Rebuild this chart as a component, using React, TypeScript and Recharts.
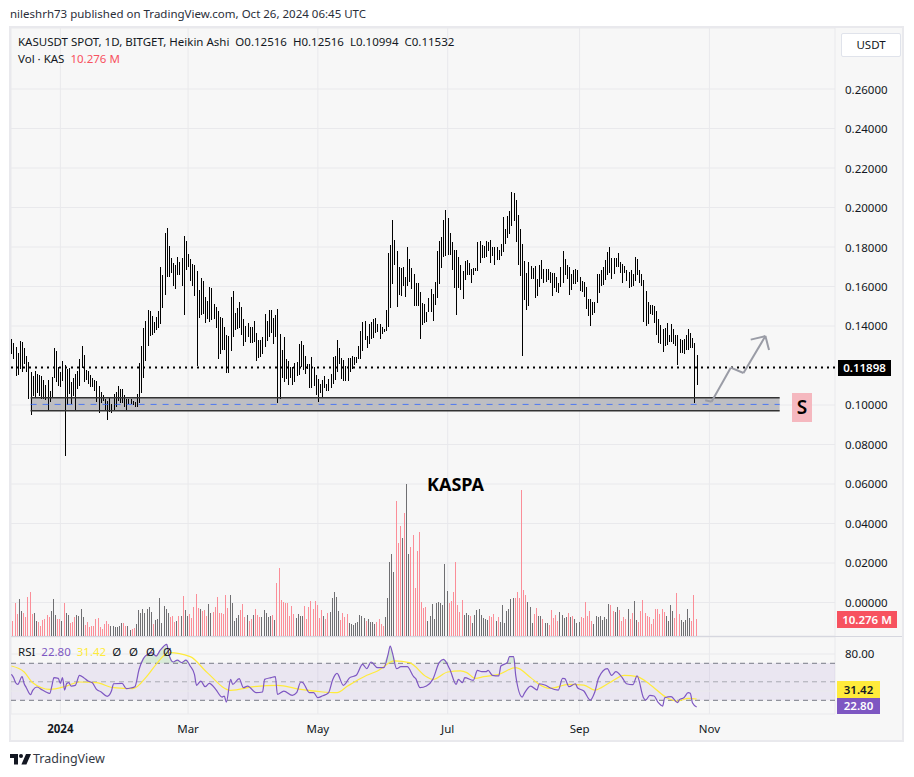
import React from 'react';
import {
    ComposedChart,
    Bar,
    Line,
    Area,
    XAxis,
    YAxis,
    CartesianGrid,
    ReferenceArea,
    ReferenceLine,
} from 'recharts';

// daily Heikin Ashi ranges, first bar is 23 days before Jan 1 2024
const firstDay = -23;

const highs = [
    .1334, .1314, .1293, .1263, .1324, .1319, .1288, .1248, .1217, .1167,
    .1148, .1172, .1157, .1152, .1147, .1126, .1101, .1126, .1072, .1142,
    .1288, .1273, .1194, .1167, .1223, .1202, .1182, .1187, .1116, .1136,
    .1157, .1172, .1233, .1298, .1253, .1177, .1172, .1152, .1136, .1126,
    .1121, .1096, .1066, .1050, .1030, .1022, .1035, .1005, .1055, .1066,
    .1096, .1081, .1081, .1050, .1030, .1030, .1030, .1020, .1015, .1055,
    .1214, .1298, .1390, .1425, .1481, .1476, .1450, .1420, .1445, .1476,
    .1697, .1658, .1871, .1896, .1805, .1744, .1719, .1709, .1749, .1724,
    .1744, .1855, .1830, .1764, .1739, .1714, .1709, .1678, .1582, .1643,
    .1628, .1547, .1526, .1597, .1592, .1511, .1496, .1476, .1445, .1440,
    .1395, .1354, .1349, .1547, .1577, .1466, .1491, .1521, .1496, .1435,
    .1400, .1415, .1395, .1395, .1425, .1364, .1329, .1329, .1344, .1461,
    .1425, .1481, .1481, .1440, .1455, .1486, .1359, .1278, .1344, .1233,
    .1223, .1192, .1192, .1212, .1217, .1309, .1324, .1304, .1248, .1207,
    .1207, .1243, .1192, .1152, .1131, .1106, .1126, .1147, .1106, .1131,
    .1157, .1243, .1246, .1329, .1288, .1238, .1228, .1197, .1238, .1238,
    .1248, .1243, .1243, .1298, .1374, .1420, .1425, .1349, .1410, .1420,
    .1435, .1440, .1410, .1410, .1395, .1385, .1481, .1769, .1810, .1936,
    .1835, .1780, .1698, .1693, .1698, .1648, .1800, .1739, .1693, .1663,
    .1617, .1617, .1572, .1516, .1511, .1471, .1542, .1587, .1562, .1623,
    .1780, .1830, .1850, .1936, .1987, .1947, .1871, .1825, .1785, .1785,
    .1749, .1709, .1678, .1729, .1734, .1719, .1688, .1693, .1693, .1825,
    .1830, .1810, .1805, .1830, .1825, .1835, .1800, .1800, .1800, .1785,
    .1815, .1952, .1891, .1957, .1982, .2078, .2073, .2038, .1962, .1891,
    .1815, .1729, .1668, .1724, .1704, .1693, .1704, .1638, .1709, .1734,
    .1688, .1688, .1688, .1673, .1668, .1668, .1648, .1617, .1698, .1780,
    .1739, .1709, .1698, .1663, .1683, .1688, .1683, .1648, .1628, .1623,
    .1597, .1536, .1536, .1521, .1521, .1663, .1663, .1683, .1698, .1734,
    .1774, .1800, .1744, .1744, .1744, .1769, .1724, .1714, .1704, .1683,
    .1673, .1683, .1663, .1749, .1739, .1683, .1663, .1633, .1577, .1521,
    .1506, .1506, .1501, .1476, .1435, .1405, .1385, .1390, .1415, .1354,
    .1410, .1385, .1354, .1354, .1334, .1329, .1334, .1354, .1385, .1364,
    .1339, .1314, .12516,
];

const lows = [
    .1260, .1233, .1148, .1152, .1180, .1167, .1207, .1165, .1030, .0949,
    .1045, .1040, .1060, .1045, .1030, .1032, .1025, .0974, .1017, .1040,
    .1138, .1116, .1096, .1091, .1121, .0742, .1000, .1055, .1005, .1045,
    .0974, .1081, .1096, .1187, .1116, .1126, .1106, .1093, .1093, .1072,
    .1017, .0958, .1010, .1020, .0974, .0924, .0963, .0961, .0974, .0991,
    .1018, .1008, .1010, .0990, .0974, .1005, .1005, .1000, .0990, .0991,
    .1012, .1062, .1136, .1223, .1298, .1349, .1354, .1363, .1379, .1388,
    .1410, .1491, .1557, .1648, .1650, .1668, .1602, .1587, .1658, .1658,
    .1602, .1455, .1683, .1698, .1628, .1602, .1552, .1197, .1440, .1455,
    .1461, .1415, .1435, .1420, .1430, .1435, .1390, .1233, .1258, .1278,
    .1278, .1162, .1162, .1273, .1344, .1379, .1385, .1390, .1354, .1298,
    .1319, .1344, .1314, .1314, .1319, .1223, .1238, .1243, .1258, .1293,
    .1324, .1344, .1364, .1309, .1344, .1010, .1030, .1136, .1116, .1131,
    .1101, .1136, .1103, .1116, .1147, .1152, .1192, .1177, .1157, .1180,
    .1088, .1088, .1096, .1050, .1017, .1059, .1035, .1084, .1072, .1072,
    .1084, .1106, .1126, .1169, .1207, .1131, .1121, .1121, .1123, .1169,
    .1182, .1202, .1211, .1233, .1233, .1275, .1329, .1290, .1310, .1334,
    .1339, .1366, .1369, .1334, .1359, .1369, .1374, .1396, .1491, .1612,
    .1709, .1496, .1557, .1552, .1602, .1547, .1602, .1623, .1587, .1501,
    .1501, .1501, .1334, .1405, .1413, .1420, .1471, .1471, .1425, .1506,
    .1542, .1612, .1693, .1749, .1754, .1759, .1759, .1683, .1592, .1455,
    .1592, .1582, .1536, .1633, .1658, .1658, .1617, .1658, .1678, .1678,
    .1719, .1744, .1744, .1749, .1780, .1719, .1754, .1709, .1734, .1734,
    .1754, .1774, .1815, .1845, .1866, .1906, .1931, .1825, .1709, .1653,
    .1248, .1531, .1481, .1501, .1638, .1638, .1542, .1552, .1597, .1638,
    .1617, .1623, .1633, .1619, .1552, .1590, .1572, .1567, .1597, .1617,
    .1658, .1638, .1557, .1582, .1612, .1612, .1623, .1577, .1572, .1547,
    .1486, .1450, .1400, .1455, .1466, .1516, .1565, .1602, .1607, .1633,
    .1658, .1668, .1638, .1663, .1698, .1698, .1668, .1617, .1668, .1628,
    .1592, .1597, .1602, .1628, .1658, .1617, .1602, .1420, .1400, .1410,
    .1461, .1455, .1415, .1354, .1314, .1309, .1268, .1298, .1303, .1319,
    .1319, .1309, .1298, .1202, .1263, .1263, .1258, .1278, .1278, .1288,
    .1288, .1010, .10994,
];

// volume in millions of KAS
const volumes = [
    10.3, 9.0, 20.1, 13.3, 22.6, 15.2, 13.9, 11.5, 23.8, 26.9,
    13.3, 13.9, 9.0, 8.4, 5.9, 9.6, 10.3, 12.7, 11.5, 15.2,
    22.6, 12.7, 10.3, 10.3, 9.0, 20.1, 13.9, 12.7, 7.8, 8.4,
    11.5, 12.7, 12.1, 16.4, 11.5, 6.6, 8.4, 5.3, 5.9, 5.9,
    10.3, 10.9, 5.3, 4.1, 7.2, 9.0, 7.2, 5.9, 5.9, 5.3,
    5.3, 5.9, 7.8, 7.8, 5.9, 5.9, 3.5, 4.1, 4.7, 7.2,
    15.8, 13.9, 16.4, 13.9, 16.4, 17.6, 14.6, 7.2, 9.6, 10.3,
    23.2, 7.8, 18.2, 16.4, 13.9, 11.5, 12.1, 8.4, 9.0, 12.1,
    12.1, 24.4, 15.8, 12.1, 13.3, 10.9, 17.6, 25.6, 17.0, 16.4,
    15.2, 15.8, 12.1, 19.5, 13.9, 14.6, 17.6, 23.8, 13.9, 13.9,
    13.3, 25.0, 17.0, 25.0, 20.1, 9.0, 10.9, 12.7, 15.8, 19.5,
    11.5, 12.7, 9.0, 10.3, 12.7, 16.4, 12.7, 11.5, 11.5, 15.8,
    13.9, 11.5, 12.1, 12.7, 9.6, 32.4, 41.6, 21.9, 20.7, 20.1,
    20.1, 12.1, 18.2, 13.3, 10.9, 13.3, 12.1, 12.1, 18.2, 10.3,
    17.6, 21.3, 16.4, 21.3, 18.9, 10.9, 15.8, 12.1, 10.3, 13.9,
    14.6, 23.2, 26.9, 23.8, 15.2, 9.6, 13.9, 11.5, 13.3, 7.8,
    7.2, 6.6, 7.8, 8.4, 12.7, 12.1, 10.9, 9.0, 10.3, 8.4,
    8.4, 7.2, 8.4, 10.3, 7.2, 5.9, 11.5, 23.2, 45.3, 50.2,
    39.2, 82.8, 57.0, 67.4, 60.1, 75.4, 93.3, 50.2, 54.5, 61.9,
    29.3, 52.1, 63.8, 20.7, 17.0, 17.6, 9.0, 12.1, 19.5, 10.3,
    20.1, 20.7, 20.1, 18.9, 44.1, 27.5, 20.1, 21.3, 26.9, 45.3,
    18.9, 14.6, 21.9, 12.7, 13.9, 12.7, 12.1, 7.8, 12.7, 15.8,
    16.4, 12.7, 10.9, 10.3, 9.6, 12.1, 11.5, 13.3, 9.0, 11.5,
    8.4, 18.9, 7.8, 15.2, 16.4, 22.6, 23.2, 23.2, 26.9, 23.2,
    89.6, 28.1, 25.0, 20.7, 17.6, 7.8, 13.3, 17.0, 12.1, 12.1,
    10.3, 7.8, 7.8, 6.6, 15.8, 10.9, 12.7, 9.0, 14.6, 12.7,
    10.9, 11.5, 13.9, 11.5, 12.1, 10.3, 7.8, 8.4, 11.5, 10.9,
    20.7, 12.1, 15.2, 9.0, 7.2, 12.1, 11.5, 12.1, 9.6, 11.5,
    10.3, 19.5, 18.9, 15.2, 14.6, 17.6, 15.8, 9.0, 11.5, 10.3,
    16.4, 10.3, 13.9, 21.3, 9.6, 8.4, 15.2, 21.9, 13.9, 12.1,
    11.5, 7.2, 10.3, 16.4, 16.4, 13.3, 16.4, 14.6, 12.1, 9.0,
    18.9, 15.2, 10.9, 26.2, 13.3, 9.6, 8.4, 9.6, 16.4, 10.9,
    9.0, 25.0, 10.276,
];

// p = down day, g = up day
const volumeDirections = [
    'ppppggpppp', 'pggppppppg', 'ggppgpggpp', 'pggggppppp', 'pppppppggg',
    'gggppggppg', 'gggggggpgg', 'gggggpppgp', 'gpggpppppg', 'pppggppppp',
    'pppgggggpp', 'pgppgpppgg', 'gggpgppppp', 'ppppggggpp', 'pppppppgpp',
    'gggggppppg', 'gggggggpgg', 'ggppppgggg', 'gpppgpggpp', 'ppppppgggg',
    'ggggggpppp', 'pppgggpggg', 'gggggpppgp', 'gggggggppp', 'pppgggppgg',
    'pggpppppgg', 'ggpgpgggpp', 'ppppgggggg', 'ggppggpppp', 'gppggppppp',
    'ppppppppgg', 'ggpppggggg', 'ppp',
].join('');

const rsiDays = [
    -23, -22, -21, -20, -18, -17, -16, -14, -13, -11,
    -9, -7, -5, -4, -3, -1, 0, 1, 2, 3,
    4, 5, 7, 9, 11, 13, 15, 17, 19, 22,
    24, 25, 29, 31, 33, 35, 37, 39, 41, 43,
    45, 47, 50, 51, 53, 55, 57, 59, 61, 63,
    64, 66, 68, 70, 73, 76, 77, 78, 80, 81,
    84, 86, 88, 92, 95, 96, 99, 101, 102, 105,
    109, 111, 113, 114, 117, 119, 121, 123, 126, 128,
    130, 133, 136, 139, 142, 144, 146, 149, 152, 154,
    155, 156, 158, 160, 163, 166, 167, 169, 172, 175,
    178, 180, 183, 186, 187, 189, 190, 194, 196, 198,
    200, 201, 203, 206, 207, 210, 211, 213, 214, 217,
    218, 221, 224, 225, 228, 230, 234, 236, 237, 239,
    242, 243, 246, 249, 251, 253, 257, 259, 261, 264,
    266, 269, 271, 274, 275, 277, 279, 281, 283, 284,
    287, 290, 291, 293, 295, 296, 297, 299,
];

const rsiValues = [
    58.1, 54.5, 49.0, 47.2, 55.5, 47.9, 43.6, 36.1, 40.8, 44.4,
    41.8, 39.3, 37.5, 45.4, 54.5, 53.7, 48.3, 54.5, 41.1, 48.3,
    49.0, 45.4, 46.2, 57.0, 54.5, 50.8, 49.0, 41.8, 39.3, 34.3,
    40.0, 47.9, 48.3, 42.6, 43.3, 44.7, 63.5, 75.0, 79.7, 81.5,
    77.9, 84.4, 90.5, 79.7, 71.4, 73.5, 70.7, 73.5, 67.1, 58.1,
    46.2, 50.8, 44.7, 48.3, 41.8, 33.5, 34.6, 28.1, 52.6, 47.2,
    53.4, 43.6, 45.4, 38.2, 39.0, 52.6, 54.5, 55.5, 36.4, 40.0,
    35.3, 38.2, 49.8, 49.0, 38.2, 38.2, 32.8, 34.6, 38.2, 52.6,
    59.1, 46.2, 54.5, 57.0, 68.9, 64.2, 71.4, 65.3, 65.3, 79.7,
    88.7, 81.5, 64.2, 66.3, 66.3, 55.5, 53.4, 43.6, 45.4, 52.6,
    70.7, 74.3, 63.5, 47.2, 52.6, 49.0, 54.5, 51.6, 62.4, 60.9,
    60.9, 62.4, 57.0, 56.3, 67.1, 70.7, 77.2, 77.2, 56.3, 33.5,
    37.5, 45.4, 41.1, 47.9, 46.2, 43.6, 41.1, 53.7, 53.4, 44.7,
    47.9, 43.6, 40.0, 30.3, 38.2, 54.5, 64.2, 57.0, 60.9, 54.5,
    47.9, 46.9, 56.3, 32.8, 30.3, 35.3, 34.6, 27.4, 23.8, 32.8,
    33.9, 27.4, 31.0, 32.8, 38.2, 37.5, 27.4, 22.8,
];

const rsiMaDays = [
    -23, -17, -13, -5, 2, 9, 17, 25, 34, 41, 45, 51, 61, 69, 80, 91, 102, 113, 122, 130,
    135, 144, 149, 157, 164, 172, 175, 182, 188, 191, 195, 199, 206, 214, 221, 225, 230,
    239, 246, 251, 258, 265, 271, 277, 285, 290, 295, 299,
];

const rsiMaValues = [
    67.1, 60.6, 49.0, 41.8, 44.7, 49.8, 49.0, 43.6, 42.6, 57.0, 68.9, 81.5, 77.2, 59.9,
    40.8, 44.7, 46.2, 41.8, 39.3, 38.2, 45.4, 57.0, 61.7, 72.5, 70.7, 55.5, 52.6, 60.6,
    61.7, 59.9, 53.7, 55.5, 58.1, 65.3, 54.5, 47.2, 42.9, 47.2, 46.5, 41.1, 49.0, 57.0,
    55.5, 47.2, 32.8, 29.2, 32.1, 31.42,
];

const priceTicks = [0, 0.02, 0.04, 0.06, 0.08, 0.1, 0.14, 0.16, 0.18, 0.2, 0.22, 0.24, 0.26];
const monthDays = [0, 60, 121, 182, 244, 305];
const monthLabels = ['2024', 'Mar', 'May', 'Jul', 'Sep', 'Nov'];

const lastPrice = 0.11898;
const supportTop = 0.1037;
const supportBottom = 0.0971;
const supportLine = 0.1003;
const supportFrom = -14;
const supportTo = 338;

// hand drawn arrow, [day, price]
const arrowPath = [[303, 0.1024], [306, 0.1017], [315, 0.1189], [321, 0.1162], [331.3, 0.1349]];
const arrowHead = [[324.4, 0.1331], [331.3, 0.1349], [333, 0.1278]];

const priceRows = highs.map((high, i) => ({
    day: firstDay + i,
    high,
    low: lows[i],
    volDown: volumeDirections[i] === 'p' ? volumes[i] : 0,
    volUp: volumeDirections[i] === 'g' ? volumes[i] : 0,
}));
const rsiRows = rsiDays.map((day, i) => ({ day, rsi: rsiValues[i] }));
const rsiMaRows = rsiMaDays.map((day, i) => ({ day, ma: rsiMaValues[i] }));

const FONT = '"Noto Sans", sans-serif';
const GRID = '#e9e9ec';
const TEXT = '#131722';
const xDomain: [number, number] = [-23.2, 364];

function segments(points: number[][]) {
    return points.slice(1).map((p, i) => (
        <ReferenceLine
            key={`seg-${p[0]}`}
            yAxisId="price"
            segment={[
                { x: points[i][0], y: points[i][1] },
                { x: p[0], y: p[1] },
            ]}
            stroke="#9a9ca6"
            strokeWidth={2}
        />
    ));
}

function TimeTick({ x, y, payload }: any) {
    const label = monthLabels[monthDays.indexOf(payload.value)];
    return (
        <text
            x={x}
            y={y + 11}
            textAnchor="middle"
            fontSize={11.5}
            fontFamily={FONT}
            fontWeight={label === '2024' ? 700 : 400}
            fill={TEXT}
        >
            {label}
        </text>
    );
}

function Tag({ left, top, width, height, bg, color, children }: any) {
    return (
        <div
            style={{
                position: 'absolute',
                left,
                top,
                width,
                height,
                lineHeight: `${height}px`,
                background: bg,
                color,
                fontSize: 11.5,
                fontWeight: 600,
                textAlign: 'center',
            }}
        >
            {children}
        </div>
    );
}

function Txt({ left, top, style, children }: any) {
    return (
        <div style={{ position: 'absolute', left, top, whiteSpace: 'pre', fontSize: 11.5, lineHeight: '16px', ...style }}>
            {children}
        </div>
    );
}

export default function App() {
    return (
        <div style={{ position: 'absolute', left: 0, top: 0, width: 914, height: 777, background: '#fff', fontFamily: FONT, color: TEXT, overflow: 'hidden' }}>
            <Txt left={10} top={6} style={{ color: '#2a2e39' }}>nileshrh73 published on TradingView.com, Oct 26, 2024 06:45 UTC</Txt>

            <div style={{ position: 'absolute', left: 9, top: 26, width: 891, height: 712, background: '#f7f7f7', border: '2px solid #e9e9ed' }} />

            <div style={{ position: 'absolute', left: 11, top: 28 }}>
                <ComposedChart width={889} height={608} data={priceRows} margin={{ top: 0, right: 0, bottom: 0, left: 0 }} barGap={0}>
                    <CartesianGrid yAxisId="price" stroke={GRID} strokeWidth={1} />
                    <XAxis dataKey="day" type="number" domain={xDomain} ticks={monthDays} hide allowDataOverflow />
                    <YAxis
                        yAxisId="price"
                        orientation="right"
                        width={65}
                        domain={[-0.01696, 0.2909]}
                        ticks={priceTicks}
                        interval={0}
                        tickLine={false}
                        axisLine={false}
                        tickMargin={4}
                        tickFormatter={(v: number) => v.toFixed(5)}
                        tick={{ fontSize: 11.5, fill: TEXT, fontFamily: FONT, dy: 0.4 }}
                    />
                    <YAxis yAxisId="vol" hide domain={[0, 374]} />
                    <ReferenceArea
                        yAxisId="price"
                        x1={supportFrom}
                        x2={supportTo}
                        y1={supportBottom}
                        y2={supportTop}
                        fill="#b4b4b9"
                        fillOpacity={0.85}
                        stroke="none"
                    />
                    <ReferenceLine
                        yAxisId="price"
                        segment={[{ x: supportFrom, y: supportTop }, { x: supportTo, y: supportTop }]}
                        stroke="#333"
                        strokeWidth={1.5}
                    />
                    <ReferenceLine
                        yAxisId="price"
                        segment={[{ x: supportFrom, y: supportBottom }, { x: supportTo, y: supportBottom }]}
                        stroke="#333"
                        strokeWidth={1.5}
                    />
                    <ReferenceLine
                        yAxisId="price"
                        segment={[{ x: supportFrom, y: supportLine }, { x: supportTo, y: supportLine }]}
                        stroke="#2962ff"
                        strokeOpacity={0.75}
                        strokeDasharray="6 6"
                    />
                    <ReferenceLine yAxisId="price" y={lastPrice} stroke="#000" strokeWidth={2} strokeDasharray="2 4" />
                    <Bar yAxisId="vol" stackId="vol" dataKey="volDown" fill="#fb8e98" barSize={1} isAnimationActive={false} shapeRendering="crispEdges" />
                    <Bar yAxisId="vol" stackId="vol" dataKey="volUp" fill="#6f6f72" barSize={1} isAnimationActive={false} shapeRendering="crispEdges" />
                    <Bar
                        yAxisId="price"
                        dataKey={(r: any) => [r.low, r.high]}
                        barSize={1}
                        fill="#000"
                        isAnimationActive={false}
                        shapeRendering="crispEdges"
                    />
                    {segments(arrowPath)}
                    {segments(arrowHead)}
                </ComposedChart>
            </div>

            <div style={{ position: 'absolute', left: 11, top: 636, width: 891, height: 1, background: '#d6d7df' }} />

            <div style={{ position: 'absolute', left: 11, top: 637 }}>
                <ComposedChart width={889} height={103} margin={{ top: 0, right: 0, bottom: 0, left: 0 }}>
                    <CartesianGrid stroke={GRID} strokeWidth={1} />
                    <XAxis
                        dataKey="day"
                        type="number"
                        domain={xDomain}
                        ticks={monthDays}
                        interval={0}
                        height={26}
                        tickLine={false}
                        axisLine={false}
                        tick={<TimeTick />}
                        allowDataOverflow
                    />
                    <YAxis
                        orientation="right"
                        width={65}
                        domain={[15.2, 98.4]}
                        ticks={[80]}
                        interval={0}
                        tickLine={false}
                        axisLine={false}
                        tickMargin={4}
                        tickFormatter={(v: number) => v.toFixed(2)}
                        tick={{ fontSize: 11.5, fill: TEXT, fontFamily: FONT }}
                    />
                    <ReferenceArea y1={30} y2={70} fill="#7e57c2" fillOpacity={0.1} stroke="none" />
                    <ReferenceLine y={40} stroke={GRID} />
                    <ReferenceLine y={70} stroke="#787b86" strokeDasharray="5 4" />
                    <ReferenceLine y={50} stroke="#a9abb3" strokeDasharray="5 4" />
                    <ReferenceLine y={30} stroke="#787b86" strokeDasharray="5 4" />
                    <Area
                        data={rsiRows}
                        dataKey={(r: any) => [70, Math.max(r.rsi, 70)]}
                        stroke="none"
                        fill="#4caf50"
                        fillOpacity={0.18}
                        isAnimationActive={false}
                    />
                    <Line data={rsiMaRows} dataKey="ma" type="monotone" stroke="#ffeb3b" strokeWidth={1.2} dot={false} isAnimationActive={false} />
                    <Line data={rsiRows} dataKey="rsi" type="monotone" stroke="#7e57c2" strokeWidth={1.2} dot={false} isAnimationActive={false} />
                </ComposedChart>
            </div>

            <Txt left={18} top={34}>KASUSDT SPOT, 1D, BITGET, Heikin Ashi  O0.12516  H0.12516  L0.10994  C0.11532</Txt>
            <Txt left={18} top={51}>
                Vol · KAS  <span style={{ color: '#f7525f' }}>10.276 M</span>
            </Txt>
            <Txt left={18} top={644}>
                RSI  <span style={{ color: '#7e57c2' }}>22.80</span>  <span style={{ color: '#ffeb3b' }}>31.42</span>  <span style={{ wordSpacing: 1 }}>Ø  Ø  Ø  Ø</span>
            </Txt>

            <div style={{ position: 'absolute', left: 841, top: 33, width: 58, height: 22, lineHeight: '22px', background: '#fff', border: '1px solid #e0e3eb', borderRadius: 2, fontSize: 11.5, textAlign: 'center' }}>
                USDT
            </div>
            <Tag left={838} top={360} width={53} height={16} bg="#000" color="#fff">0.11898</Tag>
            <Tag left={837} top={611} width={60} height={17} bg="#f7525f" color="#fff">10.276 M</Tag>
            <Tag left={837} top={681} width={43} height={17} bg="#ffeb3b" color="#131722">31.42</Tag>
            <Tag left={837} top={698} width={43} height={16} bg="#7e57c2" color="#fff">22.80</Tag>
            <div style={{ position: 'absolute', left: 792, top: 393, width: 20, height: 29, lineHeight: '29px', background: '#f5b8bf', color: '#000', fontSize: 19, fontWeight: 600, textAlign: 'center' }}>S</div>
            <div style={{ position: 'absolute', left: 427, top: 472, fontSize: 18, fontWeight: 700, lineHeight: '24px', color: '#000' }}>KASPA</div>

            <svg style={{ position: 'absolute', left: 10, top: 754 }} width={21} height={11} viewBox="0 0 21 11">
                <path d="M0 0h8v10.5H4V4H0z M16 0h5l-4.6 10.5h-5z" fill="#131722" />
                <circle cx={11} cy={2} r={2} fill="#131722" />
            </svg>
            <div style={{ position: 'absolute', left: 33, top: 750, fontSize: 12.5, lineHeight: '18px', color: '#363a45' }}>TradingView</div>
        </div>
    );
}
